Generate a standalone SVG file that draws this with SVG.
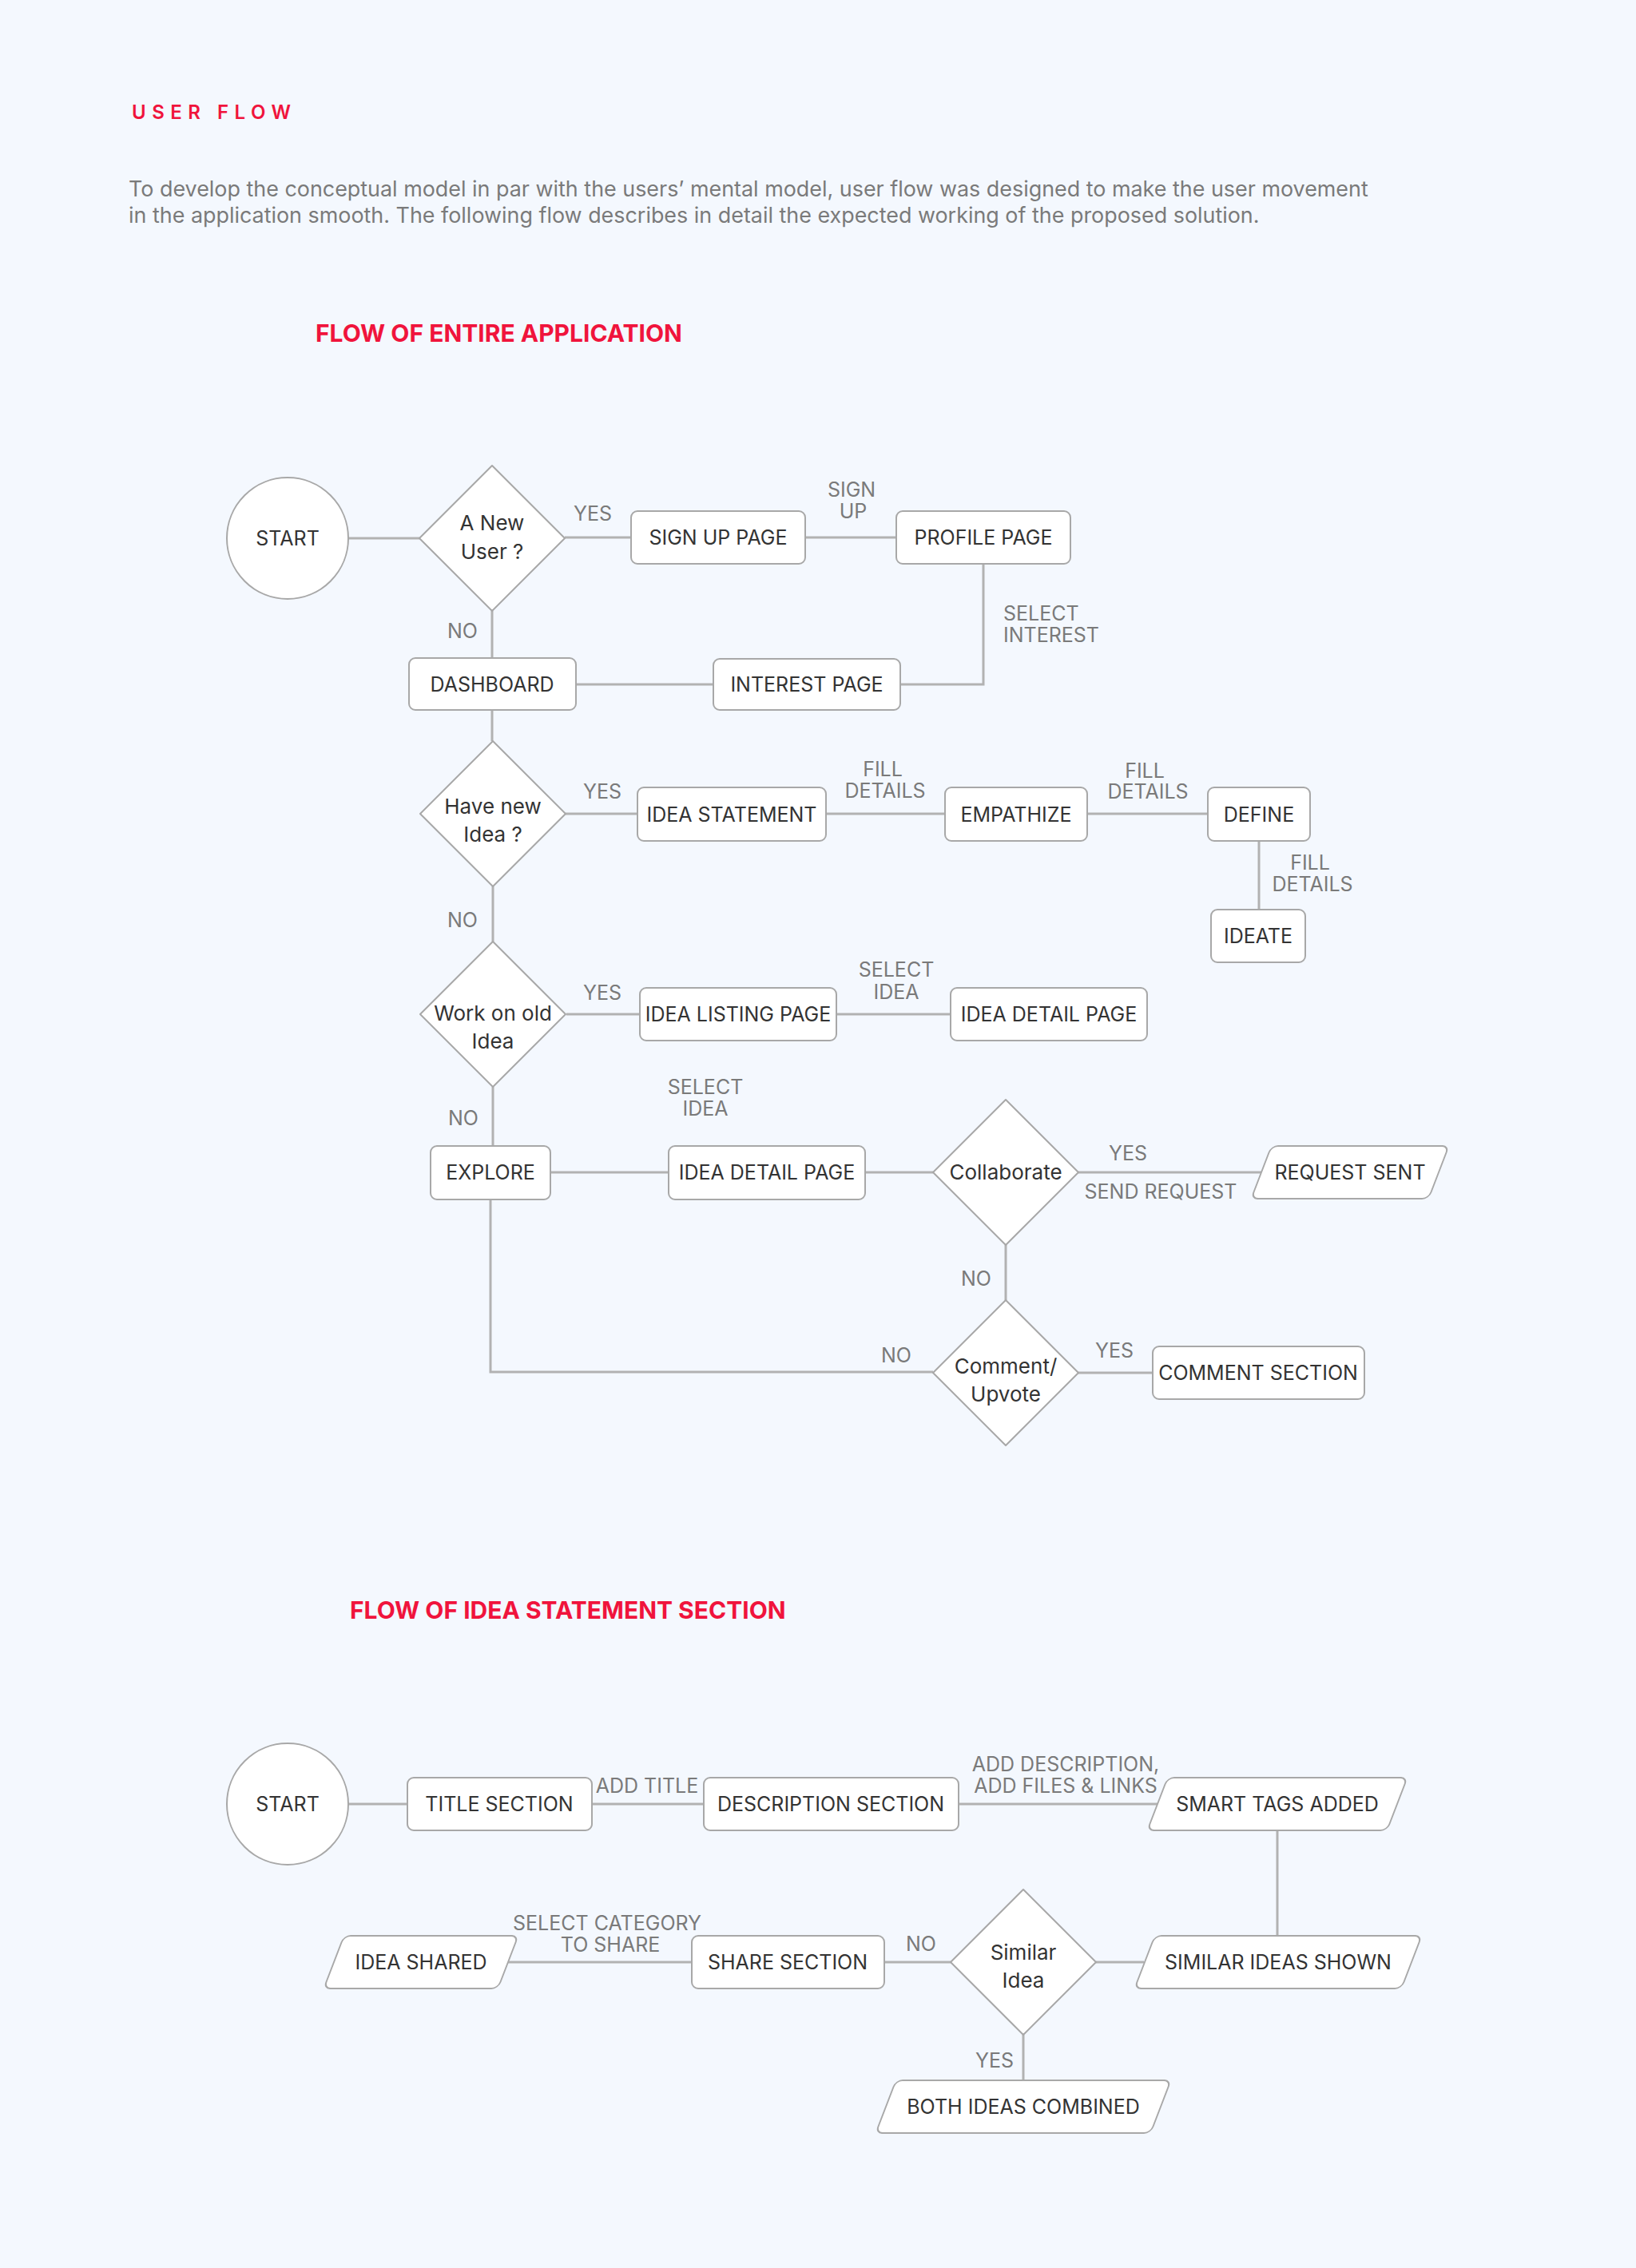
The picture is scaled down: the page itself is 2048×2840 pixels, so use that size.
<svg xmlns="http://www.w3.org/2000/svg" width="2048" height="2840" viewBox="0 0 2048 2840">
<style>
.bg{fill:#f4f8fe}
.n{fill:#ffffff;stroke:#a8a8a8;stroke-width:2}
.c{fill:none;stroke:#b2b2b2;stroke-width:3}
.t{font-family:Inter,"Liberation Sans",sans-serif;font-size:25px;fill:#333333;text-anchor:middle}
.d{font-size:26px}
.l{font-family:Inter,"Liberation Sans",sans-serif;font-size:25px;fill:#7a7a7a;text-anchor:middle}
.ll{font-family:Inter,"Liberation Sans",sans-serif;font-size:25px;fill:#7a7a7a}
.h{font-family:Inter,"Liberation Sans",sans-serif;font-weight:700;fill:#f0143c}
</style>
<rect class="bg" x="0" y="0" width="2048" height="2840"/>
<g id="header">
<text x="165" y="149" font-family="Inter,'Liberation Sans',sans-serif" font-size="24" font-weight="600" fill="#f0143c" letter-spacing="7.5">USER FLOW</text>
<text x="161" y="246" font-family="Inter,'Liberation Sans',sans-serif" font-size="26.9" fill="#7a7a7a">To develop the conceptual model in par with the users’ mental model, user flow was designed to make the user movement</text>
<text x="161" y="279" font-family="Inter,'Liberation Sans',sans-serif" font-size="26.9" fill="#7a7a7a">in the application smooth. The following flow describes in detail the expected working of the proposed solution.</text>
<text class="h" x="395" y="428" font-size="30">FLOW OF ENTIRE APPLICATION</text>
<text class="h" x="438" y="2027" font-size="30">FLOW OF IDEA STATEMENT SECTION</text>
</g>
<g id="connectors">
<path class="c" d="M436 674H525"/>
<path class="c" d="M707 673H790"/>
<path class="c" d="M1008 673H1122"/>
<path class="c" d="M1231 706V857H1127"/>
<path class="c" d="M893 857H721"/>
<path class="c" d="M616 765V824"/>
<path class="c" d="M616 889V928"/>
<path class="c" d="M708 1019H798"/>
<path class="c" d="M1034 1019H1183"/>
<path class="c" d="M1361 1019H1512"/>
<path class="c" d="M1576 1053V1139"/>
<path class="c" d="M617 1110V1179"/>
<path class="c" d="M709 1270H801"/>
<path class="c" d="M1047 1270H1190"/>
<path class="c" d="M617 1361V1435"/>
<path class="c" d="M689 1468H837"/>
<path class="c" d="M1083 1468H1168"/>
<path class="c" d="M1350 1468H1580"/>
<path class="c" d="M1259 1559V1628"/>
<path class="c" d="M1350 1719H1443"/>
<path class="c" d="M614 1502V1718H1168"/>
<path class="c" d="M436 2259H510"/>
<path class="c" d="M741 2259H881"/>
<path class="c" d="M1200 2259H1450"/>
<path class="c" d="M1599 2292V2424"/>
<path class="c" d="M1432 2457H1372"/>
<path class="c" d="M1190 2457H1107"/>
<path class="c" d="M866 2457H636"/>
<path class="c" d="M1281 2548V2605"/>
</g>
<g id="labels">
<text class="l" x="742" y="652">YES</text>
<text class="l" x="1066" y="622">SIGN</text>
<text class="l" x="1068" y="649">UP</text>
<text class="l" x="579" y="799">NO</text>
<text class="ll" x="1256" y="777">SELECT</text>
<text class="ll" x="1256" y="804">INTEREST</text>
<text class="l" x="754" y="1000">YES</text>
<text class="l" x="1105" y="972">FILL</text>
<text class="l" x="1108" y="999">DETAILS</text>
<text class="l" x="1433" y="974">FILL</text>
<text class="l" x="1437" y="1000">DETAILS</text>
<text class="l" x="1640" y="1089">FILL</text>
<text class="l" x="1643" y="1116">DETAILS</text>
<text class="l" x="579" y="1161">NO</text>
<text class="l" x="754" y="1252">YES</text>
<text class="l" x="1122" y="1223">SELECT</text>
<text class="l" x="1122" y="1251" font-size="27">IDEA</text>
<text class="l" x="883" y="1370" font-size="27">SELECT</text>
<text class="l" x="883" y="1397">IDEA</text>
<text class="l" x="580" y="1409">NO</text>
<text class="l" x="1412" y="1453">YES</text>
<text class="l" x="1453" y="1501">SEND REQUEST</text>
<text class="l" x="1222" y="1610">NO</text>
<text class="l" x="1395" y="1700">YES</text>
<text class="l" x="1122" y="1706">NO</text>
<text class="l" x="810" y="2245">ADD TITLE</text>
<text class="l" x="1334" y="2218">ADD DESCRIPTION,</text>
<text class="l" x="1334" y="2245">ADD FILES &amp; LINKS</text>
<text class="l" x="760" y="2417">SELECT CATEGORY</text>
<text class="l" x="764" y="2444">TO SHARE</text>
<text class="l" x="1153" y="2443">NO</text>
<text class="l" x="1245" y="2589">YES</text>
</g>
<g id="start1"><circle class="n" cx="360" cy="674" r="76"/><text class="t" x="360" y="683">START</text></g>
<g id="newuser"><path class="n" stroke-linejoin="round" d="M616 583L707 674L616 765L525 674Z"/><text class="t d" x="616" y="664">A New</text><text class="t d" x="616" y="700">User ?</text></g>
<g id="signup"><rect class="n" x="790" y="640" width="218" height="66" rx="8"/><text class="t" x="899" y="682">SIGN UP PAGE</text></g>
<g id="profile"><rect class="n" x="1122" y="640" width="218" height="66" rx="8"/><text class="t" x="1231" y="682">PROFILE PAGE</text></g>
<g id="dashboard"><rect class="n" x="512" y="824" width="209" height="65" rx="8"/><text class="t" x="616" y="866">DASHBOARD</text></g>
<g id="interest"><rect class="n" x="893" y="825" width="234" height="64" rx="8"/><text class="t" x="1010" y="866">INTEREST PAGE</text></g>
<g id="newidea"><path class="n" stroke-linejoin="round" d="M617 928L708 1019L617 1110L526 1019Z"/><text class="t d" x="617" y="1019">Have new</text><text class="t d" x="617" y="1054">Idea ?</text></g>
<g id="ideastatement"><rect class="n" x="798" y="986" width="236" height="67" rx="8"/><text class="t" x="916" y="1029">IDEA STATEMENT</text></g>
<g id="empathize"><rect class="n" x="1183" y="986" width="178" height="67" rx="8"/><text class="t" x="1272" y="1029">EMPATHIZE</text></g>
<g id="define"><rect class="n" x="1512" y="986" width="128" height="67" rx="8"/><text class="t" x="1576" y="1029">DEFINE</text></g>
<g id="ideate"><rect class="n" x="1516" y="1139" width="118" height="66" rx="8"/><text class="t" x="1575" y="1181">IDEATE</text></g>
<g id="oldidea"><path class="n" stroke-linejoin="round" d="M617 1179L708 1270L617 1361L526 1270Z"/><text class="t d" x="617" y="1278">Work on old</text><text class="t d" x="617" y="1313">Idea</text></g>
<g id="listing"><rect class="n" x="801" y="1237" width="246" height="66" rx="8"/><text class="t" x="924" y="1279">IDEA LISTING PAGE</text></g>
<g id="detail1"><rect class="n" x="1190" y="1237" width="246" height="66" rx="8"/><text class="t" x="1313" y="1279">IDEA DETAIL PAGE</text></g>
<g id="explore"><rect class="n" x="539" y="1435" width="150" height="67" rx="8"/><text class="t" x="614" y="1477">EXPLORE</text></g>
<g id="detail2"><rect class="n" x="837" y="1435" width="246" height="67" rx="8"/><text class="t" x="960" y="1477">IDEA DETAIL PAGE</text></g>
<g id="collab"><path class="n" stroke-linejoin="round" d="M1259 1377L1350 1468L1259 1559L1168 1468Z"/><text class="t d" x="1259" y="1477">Collaborate</text></g>
<g id="request"><rect class="n" transform="translate(1690 1468) skewX(-21)" x="-111" y="-33" width="222" height="66" rx="8"/><text class="t" x="1690" y="1477">REQUEST SENT</text></g>
<g id="comment"><path class="n" stroke-linejoin="round" d="M1259 1628L1350 1719L1259 1810L1168 1719Z"/><text class="t d" x="1259" y="1720">Comment/</text><text class="t d" x="1259" y="1755">Upvote</text></g>
<g id="commentsec"><rect class="n" x="1443" y="1686" width="265" height="66" rx="8"/><text class="t" x="1575" y="1728">COMMENT SECTION</text></g>
<g id="start2"><circle class="n" cx="360" cy="2259" r="76"/><text class="t" x="360" y="2268">START</text></g>
<g id="title"><rect class="n" x="510" y="2226" width="231" height="66" rx="8"/><text class="t" x="625" y="2268">TITLE SECTION</text></g>
<g id="desc"><rect class="n" x="881" y="2226" width="319" height="66" rx="8"/><text class="t" x="1040" y="2268">DESCRIPTION SECTION</text></g>
<g id="smarttags"><rect class="n" transform="translate(1599 2259) skewX(-21)" x="-150" y="-33" width="300" height="66" rx="8"/><text class="t" x="1599" y="2268">SMART TAGS ADDED</text></g>
<g id="ideashared"><rect class="n" transform="translate(527 2457) skewX(-21)" x="-109" y="-33" width="218" height="66" rx="8"/><text class="t" x="527" y="2466">IDEA SHARED</text></g>
<g id="sharesec"><rect class="n" x="866" y="2424" width="241" height="66" rx="8"/><text class="t" x="986" y="2466">SHARE SECTION</text></g>
<g id="similar"><path class="n" stroke-linejoin="round" d="M1281 2366L1372 2457L1281 2548L1190 2457Z"/><text class="t d" x="1281" y="2454">Similar</text><text class="t d" x="1281" y="2489">Idea</text></g>
<g id="similarshown"><rect class="n" transform="translate(1600 2457) skewX(-21)" x="-167" y="-33" width="334" height="66" rx="8"/><text class="t" x="1600" y="2466">SIMILAR IDEAS SHOWN</text></g>
<g id="both"><rect class="n" transform="translate(1281 2638) skewX(-21)" x="-172" y="-33" width="344" height="66" rx="8"/><text class="t" x="1281" y="2647">BOTH IDEAS COMBINED</text></g>
</svg>
